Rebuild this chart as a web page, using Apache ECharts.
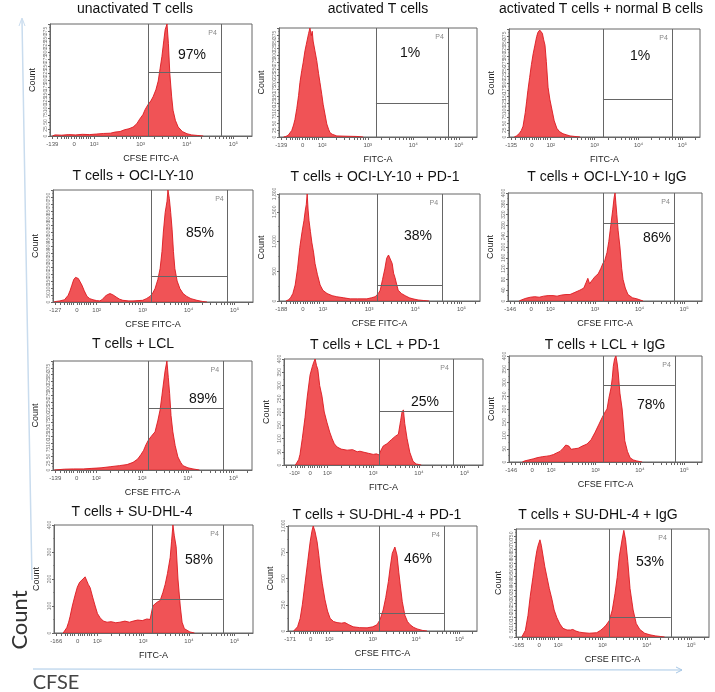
<!DOCTYPE html>
<html><head><meta charset="utf-8">
<script src="https://cdn.jsdelivr.net/npm/echarts@6/dist/echarts.min.js"></script>
<style>html,body{margin:0;padding:0;background:#fff}#c{width:715px;height:692px}</style>
</head><body><div id="c"></div>
<script>
// ---------- DATA ----------
const titles = ['unactivated T cells','activated T cells','activated T cells + normal B cells',
  'T cells + OCI-LY-10','T cells + OCI-LY-10 + PD-1','T cells + OCI-LY-10 + IgG',
  'T cells + LCL','T cells + LCL + PD-1','T cells + LCL + IgG',
  'T cells + SU-DHL-4','T cells + SU-DHL-4 + PD-1','T cells + SU-DHL-4 + IgG'];
const xNames = ['CFSE FITC-A','FITC-A','FITC-A','CFSE FITC-A','CFSE FITC-A','CFSE FITC-A',
  'CFSE FITC-A','FITC-A','CFSE FITC-A','FITC-A','CFSE FITC-A','CFSE FITC-A'];
const pctLabels = ['97%','1%','1%','85%','38%','86%','89%','25%','78%','58%','46%','53%'];
const gateName = 'P4';
// x tick labels (positions in decade units of the biexponential FITC-A scale)
const tickLabelTexts = [
  ['-139','0','10²','10³','10⁴','10⁵'],['-139','0','10²','10³','10⁴','10⁵'],['-135','0','10²','10³','10⁴','10⁵'],
  ['-127','0','10²','10³','10⁴','10⁵'],['-188','0','10²','10³','10⁴','10⁵'],['-146','0','10²','10³','10⁴','10⁵'],
  ['-139','0','10²','10³','10⁴','10⁵'],['-240','-10²','0','10²','10³','10⁴','10⁵'],['-146','0','10²','10³','10⁴','10⁵'],
  ['-166','0','10²','10³','10⁴','10⁵'],['-171','0','10²','10³','10⁴','10⁵'],['-165','0','10²','10³','10⁴','10⁵']];
const tickLabelPos = [
  [1.1,1.57,2,3,4,5],[1.1,1.57,2,3,4,5],[1.1,1.57,2,3,4,5],
  [1.1,1.57,2,3,4,5],[1.1,1.57,2,3,4,5],[1.1,1.57,2,3,4,5],
  [1.1,1.57,2,3,4,5],[1.07,1.28,1.62,2,3,4,5],[1.1,1.57,2,3,4,5],
  [1.1,1.57,2,3,4,5],[1.1,1.57,2,3,4,5],[1.1,1.57,2,3,4,5]];
const linearTicks = [1.1,1.2,1.3,1.35,1.4,1.45,1.5,1.57,1.62,1.67,1.72,1.77,1.82,1.87,1.92,2];
const xMin = 1.05, xMax = 5.4;
const yMax  = [400,400,400,800,1800,400,400,400,400,400,1000,800];
const yStep = [25,25,25,50,500,40,25,50,50,100,250,50];
const gateLo = [3.17,3.18,3.19,3.18,3.17,3.18,3.13,3.13,3.17,3.19,3.14,3.15];
const gateHi = [4.73,4.76,4.76,4.85,4.58,4.77,4.77,4.74,4.79,4.74,4.64,4.54];
const gateLevel = [228,124,140,184,270,288,228,204,288,124,170,144];

const h1 = [[1.1,0],[1.16,4],[1.3,3],[1.45,5],[1.6,4],[1.75,6],[1.9,5],[2.05,7],[2.2,9],[2.35,10],[2.45,14],[2.56,16],[2.65,22],[2.75,26],[2.84,32],[2.92,44],[2.98,60],[3.05,76],[3.1,95],[3.16,112],[3.22,125],[3.27,140],[3.33,165],[3.38,196],[3.42,240],[3.46,284],[3.5,340],[3.53,380],[3.57,400],[3.6,330],[3.63,224],[3.67,140],[3.7,92],[3.75,56],[3.81,32],[3.9,16],[4.0,8],[4.1,4],[4.22,2],[4.35,0]];
const h2 = [[1.15,0],[1.2,2],[1.25,6],[1.29,12],[1.33,24],[1.37,44],[1.4,64],[1.44,104],[1.48,152],[1.51,200],[1.55,244],[1.58,272],[1.62,316],[1.65,340],[1.67,356],[1.7,380],[1.73,400],[1.76,372],[1.78,388],[1.8,352],[1.84,316],[1.88,280],[1.92,232],[1.95,200],[1.99,156],[2.02,120],[2.06,84],[2.1,48],[2.14,28],[2.17,16],[2.22,10],[2.32,4],[2.5,3],[2.76,2],[2.9,0]];
const h3 = [[1.17,0],[1.22,4],[1.28,12],[1.33,24],[1.37,40],[1.42,90],[1.45,130],[1.48,172],[1.52,220],[1.56,268],[1.6,308],[1.64,340],[1.68,372],[1.71,388],[1.75,396],[1.78,400],[1.81,384],[1.84,360],[1.87,340],[1.9,280],[1.94,184],[1.98,140],[2.03,100],[2.08,60],[2.14,32],[2.2,20],[2.28,12],[2.36,8],[2.44,4],[2.55,2],[2.67,0]];
const h4 = [[1.07,0],[1.12,4],[1.2,8],[1.3,16],[1.38,48],[1.42,80],[1.46,120],[1.5,160],[1.54,176],[1.57,184],[1.6,168],[1.64,144],[1.68,120],[1.73,80],[1.79,40],[1.85,24],[1.92,16],[2.0,10],[2.07,8],[2.13,20],[2.18,40],[2.23,52],[2.29,60],[2.35,52],[2.44,32],[2.5,20],[2.57,12],[2.7,8],[2.79,8],[2.9,10],[3.0,12],[3.08,24],[3.16,40],[3.22,64],[3.27,96],[3.33,160],[3.38,240],[3.42,360],[3.45,500],[3.49,640],[3.53,720],[3.55,800],[3.58,740],[3.61,640],[3.64,520],[3.67,360],[3.7,240],[3.75,150],[3.81,96],[3.88,60],[3.96,40],[4.05,24],[4.18,12],[4.3,4],[4.4,0]];
const h5 = [[1.2,0],[1.25,18],[1.3,54],[1.35,126],[1.4,270],[1.45,540],[1.5,900],[1.55,1170],[1.59,1350],[1.62,1530],[1.64,1620],[1.66,1800],[1.68,1530],[1.7,1350],[1.73,1170],[1.76,990],[1.8,810],[1.83,630],[1.88,450],[1.94,270],[2.0,180],[2.09,126],[2.2,90],[2.3,72],[2.45,54],[2.59,36],[2.75,36],[2.95,36],[3.05,54],[3.13,72],[3.2,126],[3.24,180],[3.29,360],[3.34,540],[3.38,720],[3.42,774],[3.46,774],[3.5,630],[3.53,468],[3.56,396],[3.6,270],[3.63,180],[3.7,126],[3.78,90],[3.87,54],[3.95,36],[4.06,18],[4.17,9],[4.3,0]];
const h6 = [[1.3,0],[1.35,4],[1.45,10],[1.55,14],[1.65,16],[1.75,14],[1.85,18],[1.95,20],[2.06,20],[2.15,18],[2.25,22],[2.35,24],[2.44,24],[2.55,32],[2.66,40],[2.75,48],[2.8,68],[2.84,84],[2.88,64],[2.95,80],[3.01,92],[3.07,100],[3.13,120],[3.18,140],[3.22,150],[3.27,180],[3.31,220],[3.34,260],[3.37,300],[3.4,340],[3.43,384],[3.45,400],[3.47,360],[3.49,320],[3.52,260],[3.56,200],[3.6,120],[3.63,80],[3.68,48],[3.74,24],[3.84,12],[3.94,8],[4.08,0]];
const h7 = [[1.08,0],[1.12,2],[1.3,3],[1.5,4],[1.71,4],[1.9,6],[2.1,8],[2.3,12],[2.5,16],[2.67,20],[2.8,28],[2.9,40],[2.97,56],[3.03,72],[3.08,92],[3.13,108],[3.2,124],[3.28,140],[3.34,180],[3.39,220],[3.43,272],[3.46,312],[3.5,364],[3.54,400],[3.57,340],[3.6,280],[3.63,200],[3.67,140],[3.72,90],[3.78,48],[3.84,28],[3.89,16],[4.0,8],[4.11,4],[4.25,0]];
const h8 = [[1.3,0],[1.33,4],[1.37,20],[1.4,40],[1.45,100],[1.51,180],[1.56,260],[1.62,340],[1.67,372],[1.7,388],[1.73,400],[1.76,376],[1.79,360],[1.83,300],[1.88,260],[1.93,200],[1.99,160],[2.05,124],[2.1,100],[2.15,80],[2.21,68],[2.3,60],[2.43,56],[2.55,58],[2.65,50],[2.71,52],[2.8,48],[2.9,44],[3.0,40],[3.07,42],[3.13,38],[3.17,56],[3.22,72],[3.3,80],[3.4,96],[3.48,108],[3.55,116],[3.6,168],[3.63,200],[3.66,208],[3.69,156],[3.74,100],[3.8,48],[3.87,14],[3.94,4],[4.05,0]];
const h9 = [[1.35,0],[1.4,4],[1.5,8],[1.6,12],[1.68,16],[1.8,20],[1.9,22],[1.97,24],[2.05,28],[2.12,34],[2.2,40],[2.27,52],[2.33,64],[2.36,68],[2.4,60],[2.45,48],[2.52,50],[2.61,52],[2.7,60],[2.81,68],[2.9,84],[2.99,112],[3.07,140],[3.15,168],[3.22,190],[3.26,200],[3.3,240],[3.35,280],[3.38,320],[3.4,360],[3.43,390],[3.46,400],[3.49,370],[3.51,340],[3.55,260],[3.6,200],[3.63,140],[3.66,80],[3.72,40],[3.78,16],[3.85,8],[3.93,4],[4.05,0]];
const h10 = [[1.25,0],[1.29,4],[1.33,20],[1.37,40],[1.4,60],[1.45,100],[1.51,140],[1.56,170],[1.61,188],[1.66,196],[1.7,190],[1.73,208],[1.77,192],[1.8,180],[1.84,168],[1.9,130],[1.95,100],[2.0,72],[2.06,56],[2.13,44],[2.21,40],[2.3,42],[2.4,38],[2.49,40],[2.6,44],[2.7,40],[2.78,44],[2.88,48],[2.98,46],[3.08,52],[3.15,50],[3.19,48],[3.21,100],[3.26,108],[3.32,116],[3.37,120],[3.43,150],[3.48,180],[3.53,220],[3.59,280],[3.62,340],[3.65,400],[3.68,360],[3.72,320],[3.76,200],[3.81,100],[3.85,40],[3.9,16],[4.02,4],[4.12,0]];
const h11 = [[1.18,0],[1.21,10],[1.27,40],[1.33,120],[1.38,250],[1.44,450],[1.5,650],[1.56,850],[1.6,950],[1.63,1000],[1.67,950],[1.72,850],[1.76,720],[1.79,600],[1.84,450],[1.9,300],[1.96,190],[2.02,120],[2.1,90],[2.18,80],[2.28,75],[2.36,80],[2.45,60],[2.55,40],[2.7,32],[2.87,30],[3.0,40],[3.1,60],[3.17,110],[3.24,200],[3.3,320],[3.36,470],[3.4,600],[3.45,740],[3.51,800],[3.56,720],[3.6,560],[3.63,450],[3.68,280],[3.74,150],[3.8,90],[3.86,60],[3.94,35],[4.02,20],[4.15,5],[4.25,0]];
const h12 = [[1.18,0],[1.21,8],[1.26,48],[1.32,160],[1.37,300],[1.43,440],[1.48,560],[1.52,640],[1.55,680],[1.59,720],[1.62,680],[1.66,600],[1.7,520],[1.75,440],[1.8,360],[1.86,280],[1.91,200],[1.97,144],[2.04,96],[2.11,64],[2.2,52],[2.28,52],[2.33,56],[2.4,44],[2.48,36],[2.56,32],[2.7,28],[2.87,32],[2.95,48],[3.01,64],[3.08,88],[3.15,120],[3.22,200],[3.28,320],[3.33,440],[3.38,600],[3.44,720],[3.48,790],[3.52,720],[3.57,560],[3.62,360],[3.69,200],[3.76,100],[3.84,56],[3.95,28],[4.07,16],[4.2,8],[4.3,4],[4.4,0]];
const hist = [h1,h2,h3,h4,h5,h6,h7,h8,h9,h10,h11,h12];

// ---------- LAYOUT ----------
const boxes = [[50,24,202,112],[279,28,198,109],[509,29,191,108],
  [53,190,200,112],[279,194,201,107],[508,193,194,108],
  [53,361,199,109],[284,359,199,106],[509,356,193,106],
  [54,525,199,108],[288,526,189,105],[516,529,193,108]];
const titlePos = [[135,9],[378,9],[601,9],[133,176],[375,177],[607,177],[133,344],[375,345],[605,345],[132,512],[377,515],[598,515]];
const pctPos = [[192,55],[410,53],[640,56],[200,233],[418,236],[657,238],[203,399],[425,402],[651,405],[199,560],[418,559],[650,562]];

const logTicks = [];
[2,3,4].forEach(d => { for (let k = 1; k <= 9; k++) logTicks.push(d + Math.log10(k)); });
logTicks.push(5, 5 + Math.log10(2));
const allTicks = linearTicks.concat(logTicks);

const FONT = 'Liberation Sans, Arial, sans-serif';
const chart = echarts.init(document.getElementById('c'), null, {renderer: 'canvas'});
const grids = [], xAxes = [], yAxes = [], series = [];
hist.forEach((h, i) => {
  const b = boxes[i];
  grids.push({left: b[0], top: b[1], width: b[2], height: b[3], show: true, borderColor: '#666', borderWidth: 1, containLabel: false});
  xAxes.push({
    type: 'value', gridIndex: i, min: xMin, max: xMax,
    name: xNames[i], nameLocation: 'middle', nameGap: 18,
    nameTextStyle: {fontSize: 9, color: '#222', fontFamily: FONT},
    axisLine: {show: true, lineStyle: {color: '#666'}},
    axisTick: {show: true, customValues: allTicks, length: 3, lineStyle: {color: '#666'}},
    axisLabel: {show: true, customValues: tickLabelPos[i], fontSize: 6, color: '#555', margin: 5, fontFamily: FONT,
      formatter: v => { const k = tickLabelPos[i].findIndex(p => Math.abs(p - v) < 1e-6); return k >= 0 ? tickLabelTexts[i][k] : ''; }},
    splitLine: {show: false}
  });
  yAxes.push({
    type: 'value', gridIndex: i, min: 0, max: yMax[i], interval: yStep[i],
    name: 'Count', nameLocation: 'middle', nameGap: 13,
    nameTextStyle: {fontSize: 9, color: '#222', fontFamily: FONT},
    axisLine: {show: true, lineStyle: {color: '#666'}},
    axisTick: {show: true, length: 2, lineStyle: {color: '#666'}},
    minorTick: {show: true, splitNumber: 2, length: 1, lineStyle: {color: '#888'}},
    axisLabel: {fontSize: 5, color: '#777', rotate: 90, margin: 2, fontFamily: FONT,
      formatter: v => v === 0 ? '0' : v.toLocaleString('en-US')},
    splitLine: {show: false}
  });
  series.push({
    type: 'line', xAxisIndex: i, yAxisIndex: i, data: h, showSymbol: false, symbol: 'none',
    lineStyle: {color: '#dc1a20', width: 0.9},
    areaStyle: {color: 'rgba(236,40,44,0.8)', opacity: 1},
    clip: true, silent: true,
    markLine: {
      silent: true, symbol: ['none','none'], animation: false,
      lineStyle: {color: '#666', width: 1, type: 'solid'}, label: {show: false},
      data: [{xAxis: gateLo[i]}, {xAxis: gateHi[i]},
        [{coord: [gateLo[i], gateLevel[i]]}, {coord: [gateHi[i], gateLevel[i]]}]]
    }
  });
});

chart.setOption({animation: false, backgroundColor: '#fff', grid: grids, xAxis: xAxes, yAxis: yAxes, series: series});

const g = [];
titles.forEach((t, i) => {
  g.push({type: 'text', x: titlePos[i][0], y: titlePos[i][1], style: {text: t, fontSize: 14, fill: '#111', fontFamily: FONT, textAlign: 'center', textVerticalAlign: 'middle'}});
  g.push({type: 'text', x: pctPos[i][0], y: pctPos[i][1], style: {text: pctLabels[i], fontSize: 14, fill: '#111', fontFamily: FONT, textAlign: 'center', textVerticalAlign: 'middle'}});
  const p = chart.convertToPixel({gridIndex: i}, [gateHi[i], yMax[i]]);
  g.push({type: 'text', x: p[0] - 4, y: p[1] + 9, style: {text: gateName, fontSize: 7, fill: '#888', fontFamily: FONT, textAlign: 'right', textVerticalAlign: 'middle'}});
});
// global axis annotations
g.push({type: 'polyline', shape: {points: [[22,20],[26,250],[29,420],[32,580]]}, style: {stroke: '#c9dcee', lineWidth: 1.5, fill: null}});
g.push({type: 'polyline', shape: {points: [[19,26],[22,18],[25,26]]}, style: {stroke: '#c9dcee', lineWidth: 1, fill: null}});
g.push({type: 'line', shape: {x1: 33, y1: 669, x2: 682, y2: 670}, style: {stroke: '#a8c8e6', lineWidth: 1.2}});
g.push({type: 'polyline', shape: {points: [[676,667],[682,670],[676,673]]}, style: {stroke: '#a8c8e6', lineWidth: 1, fill: null}});
g.push({type: 'text', x: 20, y: 620, rotation: Math.PI / 2, style: {text: 'Count', fontSize: 22, fill: '#333', fontFamily: 'Lato, Open Sans, sans-serif', textAlign: 'center', textVerticalAlign: 'middle'}});
g.push({type: 'text', x: 56, y: 683, style: {text: 'CFSE', fontSize: 20, fill: '#444', fontFamily: 'Lato, Open Sans, sans-serif', textAlign: 'center', textVerticalAlign: 'middle'}});
chart.setOption({graphic: g});
</script>
</body></html>
